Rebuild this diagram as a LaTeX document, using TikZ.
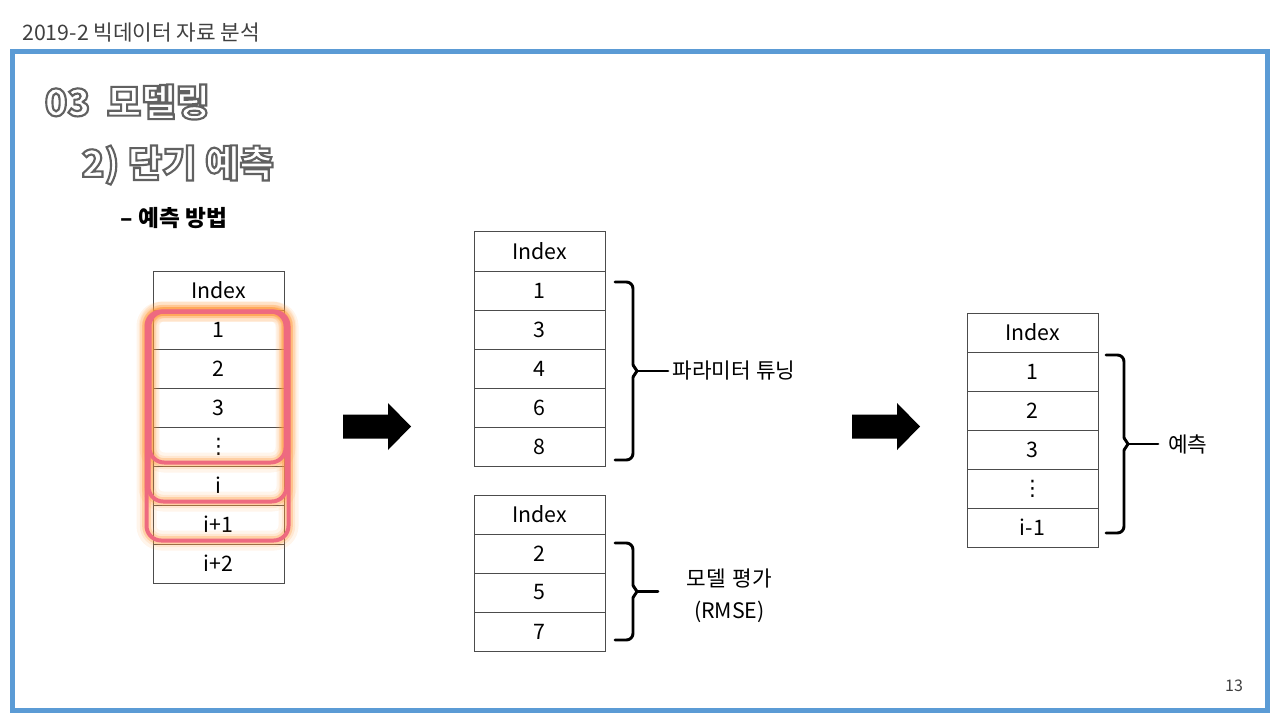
\documentclass[tikz,border=0pt]{standalone}
\usepackage{fontspec}
\setmainfont{Noto Sans CJK KR}
\newfontfamily\symfont{DejaVu Sans}
\usetikzlibrary{calc}
\definecolor{frameblue}{HTML}{5B9BD5}
\definecolor{hlpink}{HTML}{EE6A80}
\definecolor{hlglow}{HTML}{FF9A3C}
\colorlet{gridline}{black!70}
\colorlet{headtext}{black!75}

% Outlined (hollow) heading text: white fill, grey stroke
\newcommand{\hollow}[1]{%
    \special{pdf:literal direct 2 Tr 1.6 w 0.38 G}#1\special{pdf:literal direct 0 Tr 0.4 w 0 G}}

% Index table: #1 name, #2 left x, #3 top y, #4 entries
\newcommand{\idxtable}[4]{
    \begin{scope}[shift={(#2, #3)}]
        \node[cell] (#1-0) at (65.5, 19.5) {Index};
        \foreach \lbl [count=\k] in {#4}
            \node[cell] (#1-\k) at (65.5, 19.5+39*\k) {\lbl};
    \end{scope}
}

% Right curly bracket: #1 tip name, #2 x, #3 top y, #4 bottom y
\newcommand{\curlyb}[4]{
    \coordinate (#1) at (#2+22, {(#3+#4)/2});
    \draw[bracket, rounded corners=5pt] (#2, #3) -- (#2+18, #3) -- (#2+18, {(#3+#4)/2-6});
    \draw[bracket] (#2+18, {(#3+#4)/2-6}) -- (#1) -- (#2+18, {(#3+#4)/2+6});
    \draw[bracket, rounded corners=5pt] (#2+18, {(#3+#4)/2+6}) -- (#2+18, #4) -- (#2, #4);
}

% Block arrow: #1 left x, #2 centre y
\newcommand{\blockarrow}[2]{
    \fill[black] (#1, #2-12) -- (#1+45, #2-12) -- (#1+45, #2-23.5)
        -- (#1+68, #2) -- (#1+45, #2+23.5) -- (#1+45, #2+12)
        -- (#1, #2+12) -- cycle;
}

\begin{document}
\begin{tikzpicture}[
    x=0.75pt, y=-0.75pt,
    cell/.style={draw=gridline, line width=0.75pt, minimum width=98.25pt,
                 minimum height=29.25pt, inner sep=0pt,
                 font=\fontsize{16}{19}\selectfont},
    glow/.style={draw=hlglow, rounded corners=11pt,
                 preaction={draw=hlglow, draw opacity=0.10, line width=15pt},
                 preaction={draw=hlglow, draw opacity=0.15, line width=10pt},
                 draw opacity=0.30, line width=6.5pt},
    hlbox/.style={draw=hlpink, line width=3pt, rounded corners=11pt},
    bracket/.style={line width=2.2pt, line cap=round, line join=round},
    lbl/.style={font=\fontsize{16}{24}\selectfont, anchor=west},
    title/.style={font=\fontsize{28}{32}\selectfont\bfseries, text=white, anchor=west},
]
\useasboundingbox (0, 0) rectangle (1280, 720);

% HEADER and frame
\node[anchor=base west, text=headtext, font=\fontsize{16}{19}\selectfont, inner sep=0pt]
    (header) at (22, 41) {2019-2 빅데이터 자료 분석};
\draw[draw=frameblue, line width=3.75pt] (12.5, 51.5) rectangle (1267.5, 710);

% TITLES
\node[title] (sec) at (40, 102) {\hollow{03\hspace{0.45em}모델링}};
\node[title] (subsec) at (77, 165) {\hollow{2) 단기 예측}};
\node[anchor=west, font=\fontsize{17}{20}\selectfont\bfseries] (method) at (116, 218) {– 예측 방법};

% TABLES
\idxtable{L}{153}{271}{1,2,3,{\symfont ⋮},i,i+1,i+2}
\idxtable{T}{474}{232}{1,3,4,6,8}
\idxtable{V}{474}{495}{2,5,7}
\idxtable{R}{967}{313}{1,2,3,{\symfont ⋮},i-1}

% moving window on the left table
\foreach \r/\dx in {4/1, 5/2, 6/4}
    \draw[glow] ($(L-1.north west)+(-2-\dx, 2)$) rectangle ($(L-\r.south east)+(\dx, -4)$);
\foreach \r/\dx in {4/1, 5/2, 6/4}
    \draw[hlbox] ($(L-1.north west)+(-2-\dx, 2)$) rectangle ($(L-\r.south east)+(\dx, -4)$);

% ARROWS
\blockarrow{343}{426.5}
\blockarrow{852}{426.5}

% BRACKETS and labels
\curlyb{b1}{615}{282}{460}
\node[lbl] (tune) at (668, 371) {파라미터 튜닝};
\draw[bracket] (b1) -- (tune.west);

\curlyb{b2}{615}{543}{640}
\node[lbl, align=center, text width=100pt] (eval) at (658, 596) {모델 평가\\(RMSE)};
\draw[bracket] (b2) -- (b2 -| eval.west);

\curlyb{b3}{1106}{355}{533}
\node[lbl, inner xsep=7.5pt] (pred) at (1158, 444) {예측};
\draw[bracket] (b3) -- (pred.west);

% page number
\node[font=\fontsize{12}{14}\selectfont, text=headtext] (page) at (1234, 686) {13};

\end{tikzpicture}
\end{document}
